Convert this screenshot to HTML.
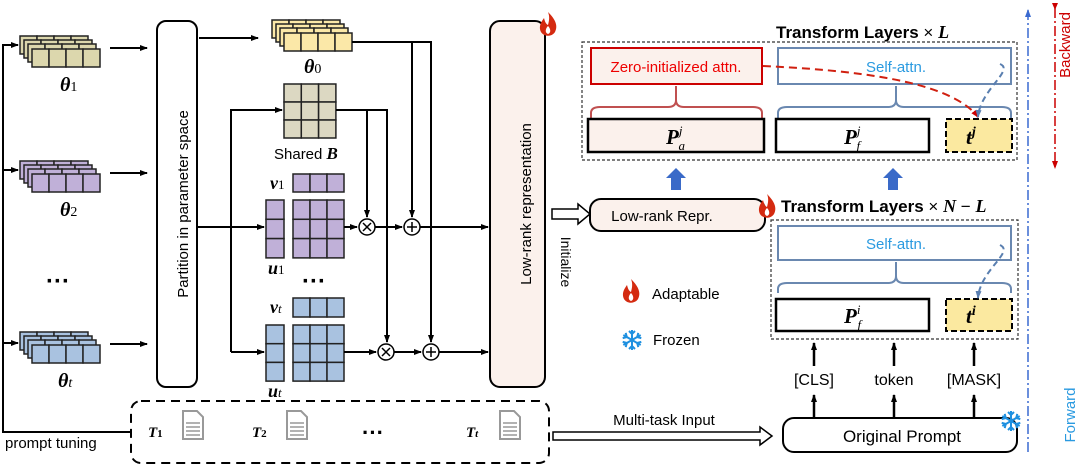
<!DOCTYPE html>
<html><head><meta charset="utf-8"><style>
body{margin:0;background:#fff}
svg{display:block;font-family:"Liberation Sans",sans-serif}
.m{font-family:"Liberation Serif",serif;font-style:italic;font-weight:bold}
</style></head><body>
<svg width="1079" height="467" viewBox="0 0 1079 467" xmlns="http://www.w3.org/2000/svg">
<defs>
<marker id="a" markerWidth="8" markerHeight="8" refX="7" refY="4" orient="auto" markerUnits="userSpaceOnUse"><path d="M0,1 L8,4 L0,7Z" fill="#000"/></marker>
<marker id="ab" markerWidth="8" markerHeight="8" refX="7" refY="4" orient="auto" markerUnits="userSpaceOnUse"><path d="M0,1 L8,4 L0,7Z" fill="#5a7fb0"/></marker>
<marker id="ar" markerWidth="8" markerHeight="8" refX="7" refY="4" orient="auto" markerUnits="userSpaceOnUse"><path d="M0,1 L8,4 L0,7Z" fill="#c00"/></marker>
<marker id="abl" markerWidth="8" markerHeight="8" refX="7" refY="4" orient="auto" markerUnits="userSpaceOnUse"><path d="M0,1 L8,4 L0,7Z" fill="#3a6ad0"/></marker>
<g id="row"><rect x="0" y="0" width="17" height="18"/><rect x="17" y="0" width="17" height="18"/><rect x="34" y="0" width="17" height="18"/><rect x="51" y="0" width="17" height="18"/></g>
<g id="stk"><use href="#row" x="0" y="0"/><use href="#row" x="4" y="4"/><use href="#row" x="8" y="8"/><use href="#row" x="12" y="13"/></g>
<g id="flame"><path d="M0,-12 C8,-4 10,2 7,8 C4,13 -4,13 -7,8 C-10,2 -6,-3 -4,-6 C-3,-2 -2,0 0,1 C1,-3 2,-7 0,-12Z" fill="#d42a10"/><path d="M0,2 C3,5 3,9 0,10 C-3,9 -3,5 0,2Z" fill="#fff"/></g>
<g id="arm"><line x1="0" y1="0" x2="0" y2="-10"/><path d="M-3,-9 L0,-6 L3,-9" fill="none"/></g>
<g id="snow" stroke="#1e90e0" stroke-width="2"><use href="#arm"/><use href="#arm" transform="rotate(60)"/><use href="#arm" transform="rotate(120)"/><use href="#arm" transform="rotate(180)"/><use href="#arm" transform="rotate(240)"/><use href="#arm" transform="rotate(300)"/></g>
<g id="doc"><path d="M0,0 H14 L20,6 V28 H0Z" fill="#fff" stroke="#999" stroke-width="2"/><g stroke="#999" stroke-width="1.5"><line x1="3" y1="12" x2="17" y2="12"/><line x1="3" y1="16" x2="17" y2="16"/><line x1="3" y1="20" x2="17" y2="20"/><line x1="3" y1="24" x2="17" y2="24"/></g></g>
</defs>

<g stroke="#000" stroke-width="2" fill="none">
<path d="M130,432 H3 V45 H18" marker-end="url(#a)"/>
<path d="M3,170 H18" marker-end="url(#a)"/>
<path d="M3,343 H18" marker-end="url(#a)"/>
<path d="M110,48 H147" marker-end="url(#a)"/>
<path d="M110,173 H147" marker-end="url(#a)"/>
<path d="M110,344 H147" marker-end="url(#a)"/>
</g>
<g stroke="#222" stroke-width="1.5">
<use href="#stk" x="20" y="36" fill="#dcd7ad"/>
<use href="#stk" x="20" y="161" fill="#c0b0d8"/>
<use href="#stk" x="20" y="332" fill="#a9c2e0"/>
<use href="#stk" x="272" y="20" fill="#fbe8a8"/>
</g>
<text x="60" y="91" class="m" font-size="20">θ<tspan font-size="14" font-weight="normal" font-style="normal">1</tspan></text>
<text x="60" y="216" class="m" font-size="20">θ<tspan font-size="14" font-weight="normal" font-style="normal">2</tspan></text>
<text x="58" y="387" class="m" font-size="20">θ<tspan font-size="14" font-weight="normal">t</tspan></text>
<text x="304" y="73" class="m" font-size="20">θ<tspan font-size="14" font-weight="normal" font-style="normal">0</tspan></text>
<text x="46" y="289" font-size="24" font-weight="bold">···</text>
<text x="302" y="289" font-size="24" font-weight="bold">···</text>

<rect x="157" y="21" width="40" height="366" rx="9" fill="#fff" stroke="#000" stroke-width="2"/>
<text transform="translate(188,204) rotate(-90)" text-anchor="middle" font-size="15">Partition in parameter space</text>

<g stroke="#222" stroke-width="1.5" fill="#dcd8c2">
<rect x="284" y="84" width="17.3" height="18"/><rect x="301.3" y="84" width="17.3" height="18"/><rect x="318.6" y="84" width="17.3" height="18"/>
<rect x="284" y="102" width="17.3" height="18"/><rect x="301.3" y="102" width="17.3" height="18"/><rect x="318.6" y="102" width="17.3" height="18"/>
<rect x="284" y="120" width="17.3" height="18"/><rect x="301.3" y="120" width="17.3" height="18"/><rect x="318.6" y="120" width="17.3" height="18"/>
</g>
<text x="274" y="159" font-size="15">Shared <tspan class="m" font-size="17">B</tspan></text>

<g stroke="#222" stroke-width="1.5" fill="#c0b0d8">
<rect x="293" y="174" width="17" height="18"/><rect x="310" y="174" width="17" height="18"/><rect x="327" y="174" width="17" height="18"/>
<rect x="266" y="200" width="18" height="19.3"/><rect x="266" y="219.3" width="18" height="19.3"/><rect x="266" y="238.6" width="18" height="19.3"/>
<rect x="293" y="200" width="17" height="19.3"/><rect x="310" y="200" width="17" height="19.3"/><rect x="327" y="200" width="17" height="19.3"/>
<rect x="293" y="219.3" width="17" height="19.3"/><rect x="310" y="219.3" width="17" height="19.3"/><rect x="327" y="219.3" width="17" height="19.3"/>
<rect x="293" y="238.6" width="17" height="19.3"/><rect x="310" y="238.6" width="17" height="19.3"/><rect x="327" y="238.6" width="17" height="19.3"/>
</g>
<g stroke="#222" stroke-width="1.5" fill="#a9c2e0">
<rect x="293" y="298" width="17" height="19"/><rect x="310" y="298" width="17" height="19"/><rect x="327" y="298" width="17" height="19"/>
<rect x="266" y="325" width="18" height="18.7"/><rect x="266" y="343.7" width="18" height="18.7"/><rect x="266" y="362.4" width="18" height="18.7"/>
<rect x="293" y="325" width="17" height="18.7"/><rect x="310" y="325" width="17" height="18.7"/><rect x="327" y="325" width="17" height="18.7"/>
<rect x="293" y="343.7" width="17" height="18.7"/><rect x="310" y="343.7" width="17" height="18.7"/><rect x="327" y="343.7" width="17" height="18.7"/>
<rect x="293" y="362.4" width="17" height="18.7"/><rect x="310" y="362.4" width="17" height="18.7"/><rect x="327" y="362.4" width="17" height="18.7"/>
</g>
<text x="270" y="189" class="m" font-size="18">v<tspan font-size="13" font-weight="normal" font-style="normal">1</tspan></text>
<text x="268" y="274" class="m" font-size="18">u<tspan font-size="13" font-weight="normal" font-style="normal">1</tspan></text>
<text x="270" y="313" class="m" font-size="18">v<tspan font-size="13" font-weight="normal">t</tspan></text>
<text x="268" y="397" class="m" font-size="18">u<tspan font-size="13" font-weight="normal">t</tspan></text>

<g stroke="#000" stroke-width="2" fill="none">
<path d="M199,38 H258" marker-end="url(#a)"/>
<path d="M352,42 H431 V342" marker-end="url(#a)"/>
<path d="M412,42 V217" marker-end="url(#a)"/>
<path d="M336,110 H387 V342" marker-end="url(#a)"/>
<path d="M367,110 V217" marker-end="url(#a)"/>
<path d="M231,352 V110 H282" marker-end="url(#a)"/>
<path d="M231,352 H264" marker-end="url(#a)"/>
<path d="M197,227 H264" marker-end="url(#a)"/>
<path d="M344,227 H357" marker-end="url(#a)"/>
<path d="M375,227 H402" marker-end="url(#a)"/>
<path d="M420,227 H488" marker-end="url(#a)"/>
<path d="M344,352 H376" marker-end="url(#a)"/>
<path d="M394,352 H421" marker-end="url(#a)"/>
<path d="M439,352 H488" marker-end="url(#a)"/>
</g>
<g stroke="#000" stroke-width="1.5" fill="#fff">
<circle cx="367" cy="227" r="8"/><circle cx="412" cy="227" r="8"/><circle cx="386" cy="352" r="8"/><circle cx="431" cy="352" r="8"/>
</g>
<g stroke="#000" stroke-width="1.5">
<path d="M363,223 l8,8 M371,223 l-8,8 M382,348 l8,8 M390,348 l-8,8"/>
<path d="M407,227 h10 M412,222 v10 M426,352 h10 M431,347 v10"/>
</g>

<rect x="490" y="21" width="55" height="366" rx="10" fill="#fbf1ec" stroke="#000" stroke-width="2"/>
<text transform="translate(531,204) rotate(-90)" text-anchor="middle" font-size="15">Low-rank representation</text>
<use href="#flame" x="548" y="24"/>
<text transform="translate(561,262) rotate(90)" text-anchor="middle" font-size="14">Initialize</text>
<path d="M552,209 H578 V204 L590,214 L578,224 V219 H552Z" fill="#fff" stroke="#000" stroke-width="1.5"/>

<rect x="590" y="199" width="175" height="32" rx="11" fill="#fbf1ec" stroke="#000" stroke-width="2"/>
<text x="662" y="221" text-anchor="middle" font-size="15">Low-rank Repr.</text>
<use href="#flame" x="767" y="206"/>

<use href="#flame" x="631" y="291"/>
<text x="652" y="299" font-size="15">Adaptable</text>
<use href="#snow" x="632" y="340"/>
<text x="653" y="345" font-size="15">Frozen</text>

<text x="776" y="38" font-size="17" font-weight="bold">Transform Layers <tspan font-weight="normal"> × </tspan><tspan class="m" font-size="18">L</tspan></text>
<rect x="582" y="42" width="435" height="118" fill="none" stroke="#333" stroke-width="1.2" stroke-dasharray="3,2"/>
<rect x="591" y="48" width="171" height="36" fill="#fbf1ec" stroke="#c00" stroke-width="2"/>
<text x="676" y="72" text-anchor="middle" font-size="15" fill="#e00">Zero-initialized attn.</text>
<rect x="778" y="48" width="233" height="36" fill="#fff" stroke="#6a88b0" stroke-width="2"/>
<text x="896" y="72" text-anchor="middle" font-size="15" fill="#2a9ae0">Self-attn.</text>
<path d="M591,118 V113 Q591,107 600,107 H668 Q676,107 676,100 V86 M676,100 Q676,107 684,107 H753 Q762,107 762,113 V118" fill="none" stroke="#c05050" stroke-width="2"/>
<path d="M778,118 V113 Q778,107 787,107 H888 Q896,107 896,100 V86 M896,100 Q896,107 904,107 H1002 Q1011,107 1011,113 V118" fill="none" stroke="#6a88b0" stroke-width="2"/>
<rect x="588" y="119" width="176" height="33" fill="#fbf1ec" stroke="#000" stroke-width="2.5"/>
<text x="666" y="144" class="m" font-size="21">P<tspan font-size="13" dy="-9" font-weight="normal">j</tspan><tspan font-size="13" dx="-4" dy="15" font-weight="normal">a</tspan></text>
<rect x="776" y="119" width="153" height="33" fill="#fff" stroke="#000" stroke-width="2.5"/>
<text x="844" y="144" class="m" font-size="21">P<tspan font-size="13" dy="-9" font-weight="normal">j</tspan><tspan font-size="13" dx="-4" dy="15" font-weight="normal">f</tspan></text>
<rect x="946" y="119" width="66" height="33" fill="#fbe9a0" stroke="#000" stroke-width="2" stroke-dasharray="6,3"/>
<text x="966" y="144" class="m" font-size="21">t<tspan font-size="14" dy="-8">j</tspan></text>
<path d="M763,66 C850,70 950,80 978,117" fill="none" stroke="#d02010" stroke-width="2" stroke-dasharray="8,5" marker-end="url(#ar)"/>
<path d="M1000,64 C1015,70 980,90 978,117" fill="none" stroke="#5a7fb0" stroke-width="2" stroke-dasharray="6,4" marker-end="url(#ab)"/>

<path d="M671,190 V178 H666 L676,168 L686,178 H681 V190Z" fill="#3a6ac8"/>
<path d="M888,190 V178 H883 L893,168 L903,178 H898 V190Z" fill="#3a6ac8"/>

<text x="781" y="212" font-size="17" font-weight="bold">Transform Layers <tspan font-weight="normal"> × </tspan><tspan class="m" font-size="18">N</tspan><tspan font-weight="normal"> − </tspan><tspan class="m" font-size="18">L</tspan></text>
<rect x="771" y="220" width="247" height="119" fill="none" stroke="#333" stroke-width="1.2" stroke-dasharray="3,2"/>
<rect x="778" y="226" width="233" height="34" fill="#fff" stroke="#6a88b0" stroke-width="2"/>
<text x="896" y="249" text-anchor="middle" font-size="15" fill="#2a9ae0">Self-attn.</text>
<path d="M778,293 V289 Q778,283 787,283 H888 Q896,283 896,276 V262 M896,276 Q896,283 904,283 H1002 Q1011,283 1011,289 V293" fill="none" stroke="#6a88b0" stroke-width="2"/>
<rect x="776" y="299" width="153" height="32" fill="#fff" stroke="#000" stroke-width="2.5"/>
<text x="844" y="323" class="m" font-size="21">P<tspan font-size="13" dy="-9" font-weight="normal">i</tspan><tspan font-size="13" dx="-3" dy="15" font-weight="normal">f</tspan></text>
<rect x="946" y="299" width="66" height="32" fill="#fbe9a0" stroke="#000" stroke-width="2" stroke-dasharray="6,3"/>
<text x="966" y="323" class="m" font-size="21">t<tspan font-size="14" dy="-8">i</tspan></text>
<path d="M1000,245 C1015,252 980,270 978,298" fill="none" stroke="#5a7fb0" stroke-width="2" stroke-dasharray="6,4" marker-end="url(#ab)"/>

<g stroke="#000" stroke-width="2.5" fill="none">
<path d="M814,366 V343" marker-end="url(#a)"/><path d="M894,366 V343" marker-end="url(#a)"/><path d="M974,366 V343" marker-end="url(#a)"/>
<path d="M814,418 V395" marker-end="url(#a)"/><path d="M894,418 V395" marker-end="url(#a)"/><path d="M974,418 V395" marker-end="url(#a)"/>
</g>
<text x="814" y="385" text-anchor="middle" font-size="16">[CLS]</text>
<text x="894" y="385" text-anchor="middle" font-size="16">token</text>
<text x="974" y="385" text-anchor="middle" font-size="16">[MASK]</text>
<rect x="783" y="418" width="234" height="34" rx="11" fill="#fff" stroke="#000" stroke-width="2"/>
<text x="902" y="442" text-anchor="middle" font-size="17">Original Prompt</text>
<use href="#snow" x="1011" y="421"/>

<text x="664" y="425" text-anchor="middle" font-size="15">Multi-task Input</text>
<path d="M553,432 H760 V427 L772,436 L760,445 V440 H553Z" fill="#fff" stroke="#000" stroke-width="1.5"/>

<rect x="131" y="401" width="418" height="62" rx="10" fill="none" stroke="#000" stroke-width="2" stroke-dasharray="9,6"/>
<text x="5" y="448" font-size="15">prompt tuning</text>
<text x="148" y="437" class="m" font-weight="normal" font-size="15">T<tspan font-size="11" font-style="normal">1</tspan></text>
<use href="#doc" x="183" y="411"/>
<text x="252" y="437" class="m" font-weight="normal" font-size="15">T<tspan font-size="11" font-style="normal">2</tspan></text>
<use href="#doc" x="287" y="411"/>
<text x="362" y="440" font-size="22" font-weight="bold">···</text>
<text x="466" y="437" class="m" font-weight="normal" font-size="15">T<tspan font-size="11">t</tspan></text>
<use href="#doc" x="500" y="411"/>

<path d="M1028,452 V10" stroke="#3a6ad0" stroke-width="1.5" stroke-dasharray="10,3,2,3" fill="none" marker-end="url(#abl)"/>
<path d="M1055,8 V168" stroke="#c00" stroke-width="1.5" stroke-dasharray="10,3,2,3" fill="none" marker-end="url(#ar)"/>
<path d="M1055,10 L1052,3 L1058,3Z" fill="#c00"/>
<text transform="translate(1070,45) rotate(-90)" text-anchor="middle" font-size="15" fill="#c00">Backward</text>
<text transform="translate(1075,415) rotate(-90)" text-anchor="middle" font-size="15" fill="#2a9ae0">Forward</text>
</svg>
</body></html>
